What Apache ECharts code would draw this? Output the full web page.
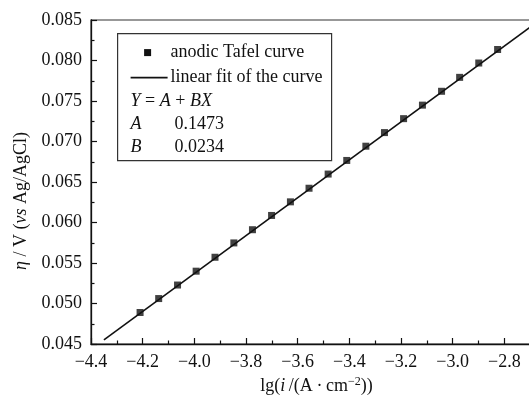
<!DOCTYPE html>
<html>
<head>
<meta charset="utf-8">
<script src="https://cdn.jsdelivr.net/npm/echarts@6/dist/echarts.min.js"></script>
<style>
  html, body { margin: 0; padding: 0; background: #fff; }
  #chart { width: 529px; height: 398px; }
</style>
</head>
<body>
<div id="chart"></div>
<script>
// Anodic Tafel data: lg of current density vs. overpotential
const lgCurrent = [-4.210, -4.138, -4.065, -3.993, -3.920, -3.847, -3.775, -3.701, -3.628, -3.556,
                   -3.482, -3.410, -3.336, -3.264, -3.190, -3.117, -3.043, -2.973, -2.899, -2.826];
const overpotential = [0.04889, 0.05061, 0.05228, 0.05399, 0.05571, 0.05748, 0.05911, 0.06087, 0.06255, 0.06423,
                       0.06598, 0.06766, 0.06942, 0.07110, 0.07282, 0.07449, 0.07620, 0.07792, 0.07969, 0.08136];

// Linear fit Y = A + B X and the X span it is drawn over
const fitA = 0.1473;
const fitB = 0.0234;
const fitRange = [-4.35, -2.70];

// Legend texts
const seriesNames = ['anodic Tafel curve', 'linear fit of the curve'];

const FONT = 'Liberation Serif, Times New Roman, serif';
const FS = 18;
const INK = '#111';
const fmtMinus = s => s.replace('-', '\u2212');

const fitData = fitRange.map(x => [x, fitA + fitB * x]);
const scatterData = lgCurrent.map((x, i) => [x, overpotential[i]]);

const chart = echarts.init(document.getElementById('chart'), null, { renderer: 'canvas' });

const legendLeft = 117, legendTop = 33, legendW = 214, legendH = 127;

chart.setOption({
  backgroundColor: '#fff',
  animation: false,
  grid: {
    left: 91, top: 20, width: 465, height: 324,
    containLabel: false,
    outerBoundsMode: 'none',
    show: true, borderColor: '#333', borderWidth: 1.2, backgroundColor: 'transparent'
  },
  xAxis: {
    type: 'value',
    min: -4.4, max: -2.6, interval: 0.2,
    name: 'lg({i|i\u2009}/(A\u2009\u00b7\u2009cm{sup|\u22122}))',
    nameLocation: 'middle',
    nameGap: 31,
    nameTextStyle: {
      fontFamily: FONT, fontSize: FS, color: INK,
      padding: [0, 14, 0, 0],
      rich: {
        i: { fontFamily: FONT, fontSize: FS, fontStyle: 'italic', color: INK },
        sup: { fontFamily: FONT, fontSize: 12, color: INK, verticalAlign: 'top', padding: [0, 0, 8, 0] }
      }
    },
    axisLine: { show: true, onZero: false, lineStyle: { color: INK, width: 1.3 } },
    axisTick: { inside: true, length: 6, lineStyle: { color: INK, width: 1.2 } },
    minorTick: { show: true, splitNumber: 2, length: 3.5, lineStyle: { color: INK, width: 1.2 } },
    splitLine: { show: false },
    axisLabel: {
      fontFamily: FONT, fontSize: FS, color: INK, margin: 9,
      showMaxLabel: false,
      formatter: v => fmtMinus(v.toFixed(1))
    }
  },
  yAxis: {
    type: 'value',
    min: 0.045, max: 0.085, interval: 0.005,
    name: '{i|\u03b7} / V ({i|vs} Ag/AgCl)',
    nameLocation: 'middle',
    nameGap: 60,
    nameRotate: 90,
    nameTextStyle: {
      fontFamily: FONT, fontSize: FS, color: INK,
      padding: [0, 38, 0, 0],
      rich: {
        i: { fontFamily: FONT, fontSize: FS, fontStyle: 'italic', color: INK }
      }
    },
    axisLine: { show: true, onZero: false, lineStyle: { color: INK, width: 1.3 } },
    axisTick: { inside: true, length: 6, lineStyle: { color: INK, width: 1.2 } },
    minorTick: { show: true, splitNumber: 2, length: 3.5, lineStyle: { color: INK, width: 1.2 } },
    splitLine: { show: false },
    axisLabel: {
      fontFamily: FONT, fontSize: FS, color: INK, margin: 9,
      formatter: v => v.toFixed(3)
    }
  },
  series: [
    {
      name: seriesNames[1],
      type: 'line',
      data: fitData,
      showSymbol: false,
      symbol: 'none',
      lineStyle: { color: INK, width: 1.6 },
      z: 2
    },
    {
      name: seriesNames[0],
      type: 'scatter',
      data: scatterData,
      symbol: 'rect',
      symbolSize: 7,
      itemStyle: { color: INK },
      z: 3
    }
  ],
  graphic: [
    {
      type: 'group',
      left: legendLeft, top: legendTop,
      children: [
        { type: 'rect', shape: { x: 0, y: 0, width: legendW, height: legendH },
          style: { fill: '#fff', stroke: '#333', lineWidth: 1.2 } },
        { type: 'rect', shape: { x: 26.5, y: 15.5, width: 7, height: 7 }, style: { fill: INK } },
        { type: 'text', x: 53, y: 19, style: { text: seriesNames[0], font: FS + 'px ' + FONT, fill: INK, textVerticalAlign: 'middle' } },
        { type: 'line', shape: { x1: 13, y1: 44, x2: 50, y2: 44 }, style: { stroke: INK, lineWidth: 1.6 } },
        { type: 'text', x: 53, y: 44, style: { text: seriesNames[1], font: FS + 'px ' + FONT, fill: INK, textVerticalAlign: 'middle' } },
        { type: 'text', x: 13, y: 68, style: {
            text: '{i|Y} = {i|A} + {i|BX}', font: FS + 'px ' + FONT, fill: INK, textVerticalAlign: 'middle',
            rich: { i: { fontFamily: FONT, fontSize: FS, fontStyle: 'italic', fill: INK } } } },
        { type: 'text', x: 13, y: 91, style: { text: 'A', font: 'italic ' + FS + 'px ' + FONT, fill: INK, textVerticalAlign: 'middle' } },
        { type: 'text', x: 57, y: 91, style: { text: fitA.toFixed(4), font: FS + 'px ' + FONT, fill: INK, textVerticalAlign: 'middle' } },
        { type: 'text', x: 13, y: 114, style: { text: 'B', font: 'italic ' + FS + 'px ' + FONT, fill: INK, textVerticalAlign: 'middle' } },
        { type: 'text', x: 57, y: 114, style: { text: fitB.toFixed(4), font: FS + 'px ' + FONT, fill: INK, textVerticalAlign: 'middle' } }
      ]
    }
  ]
});
</script>
</body>
</html>
